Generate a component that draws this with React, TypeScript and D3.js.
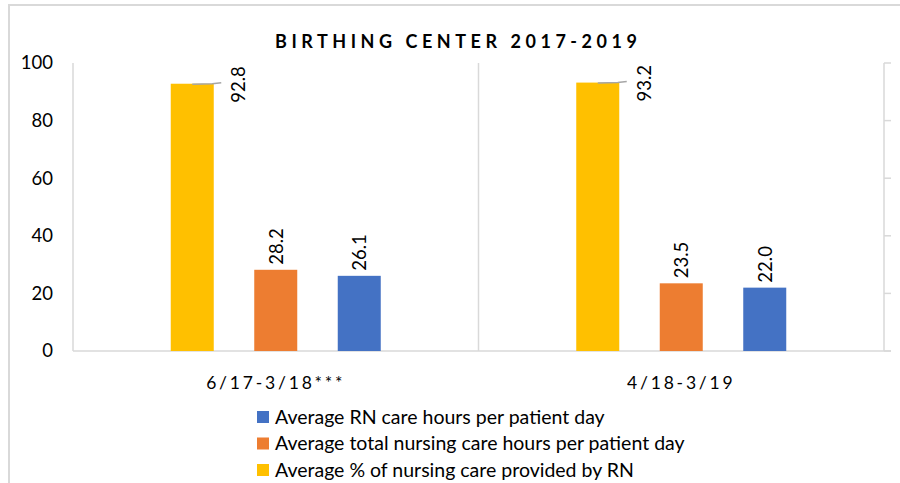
import React from 'react';
import * as d3 from 'd3';

// chart data
const categories = ['6/17-3/18***', '4/18-3/19'];
const seriesNames = [
  'Average % of nursing care provided by RN',
  'Average total nursing care hours per patient day',
  'Average RN care hours per patient day',
];
const pctByRN = [92.8, 93.2];
const totalHours = [28.2, 23.5];
const rnHours = [26.1, 22.0];
const yTicks = [0, 20, 40, 60, 80, 100];

const colors = ['#FFC000', '#ED7D31', '#4472C4'];
const font = 'Lato, "Open Sans", sans-serif';

export default function App() {
  const width = 900;
  const height = 483;
  const left = 73;
  const right = 884;
  const top = 63;
  const bottom = 351;

  const series = [pctByRN, totalHours, rnHours];

  const y = d3.scaleLinear().domain([0, 100]).range([bottom, top]);
  const x0 = d3.scaleBand().domain(categories).range([left, right]).padding(0);
  const x1 = d3
    .scaleBand()
    .domain(seriesNames)
    .range([-125.25, 125.25])
    .paddingInner(0.485)
    .paddingOuter(0.2425);

  const bw = x1.bandwidth();
  // legend lists series in reverse order
  const legendOrder = [2, 1, 0];

  return (
    <svg
      width={width}
      height={height}
      style={{ position: 'absolute', left: 0, top: 0, background: '#fff' }}
      fontFamily={font}
    >
      <rect x={9} y={5} width={1000} height={1000} fill="#fff" stroke="#d9d9d9" strokeWidth={2} />

      <text
        x={456}
        y={48}
        textAnchor="middle"
        fontSize={18}
        fontWeight="bold"
        textLength={362}
        lengthAdjust="spacing"
        fill="#000"
      >
        BIRTHING CENTER 2017-2019
      </text>

      {/* axis lines */}
      <line x1={left} x2={left} y1={top} y2={bottom} stroke="#d9d9d9" strokeWidth={1.5} />
      <line x1={right} x2={right} y1={top} y2={bottom} stroke="#d9d9d9" strokeWidth={1.5} />
      {categories.slice(1).map((c) => (
        <line key={c} x1={x0(c)} x2={x0(c)} y1={top} y2={bottom} stroke="#d9d9d9" strokeWidth={1.5} />
      ))}
      {yTicks.map((t) => (
        <line key={'rt' + t} x1={right} x2={right + 7} y1={y(t)} y2={y(t)} stroke="#d9d9d9" strokeWidth={1.5} />
      ))}
      <line x1={left} x2={right + 7} y1={bottom} y2={bottom} stroke="#d9d9d9" strokeWidth={1.5} />

      {yTicks.map((t) => (
        <text key={'yl' + t} x={53} y={y(t)} dy="0.35em" textAnchor="end" fontSize={18.5} fill="#000">
          {t}
        </text>
      ))}

      {categories.map((c, ci) => {
        const cx = (x0(c) as number) + x0.bandwidth() / 2;
        return (
          <g key={c}>
            {seriesNames.map((s, si) => {
              const v = series[si][ci];
              const bx = cx + (x1(s) as number);
              const barTop = y(v);
              const mid = bx + bw / 2;
              const outside = barTop - 45 < top;
              const lx = outside ? mid + 46 : mid;
              const ly = outside ? barTop + 19 : barTop - 5;
              return (
                <g key={s}>
                  <rect x={bx} y={barTop} width={bw} height={bottom - barTop} fill={colors[si]} />
                  {outside && (
                    <path
                      d={`M${mid},${barTop + 0.5}L${mid + 20},${barTop}L${mid + 29},${barTop - 1}`}
                      fill="none"
                      stroke="#a6a6a6"
                      strokeWidth={1.5}
                    />
                  )}
                  <text
                    transform={`translate(${lx},${ly}) rotate(-90)`}
                    dominantBaseline="central"
                    fontSize={18.5}
                    fill="#000"
                  >
                    {v.toFixed(1)}
                  </text>
                </g>
              );
            })}
            <text
              x={cx}
              y={389}
              textAnchor="middle"
              fontSize={17.5}
              letterSpacing={2.8}
              fill="#000"
            >
              {c}
            </text>
          </g>
        );
      })}

      {legendOrder.map((si, i) => (
        <g key={'lg' + si} transform={`translate(257,${417 + i * 26.5})`}>
          <rect x={0} y={-6} width={12} height={12} fill={colors[si]} />
          <text x={18} y={0} dy="0.35em" fontSize={19.5} fill="#000">
            {seriesNames[si]}
          </text>
        </g>
      ))}
    </svg>
  );
}
